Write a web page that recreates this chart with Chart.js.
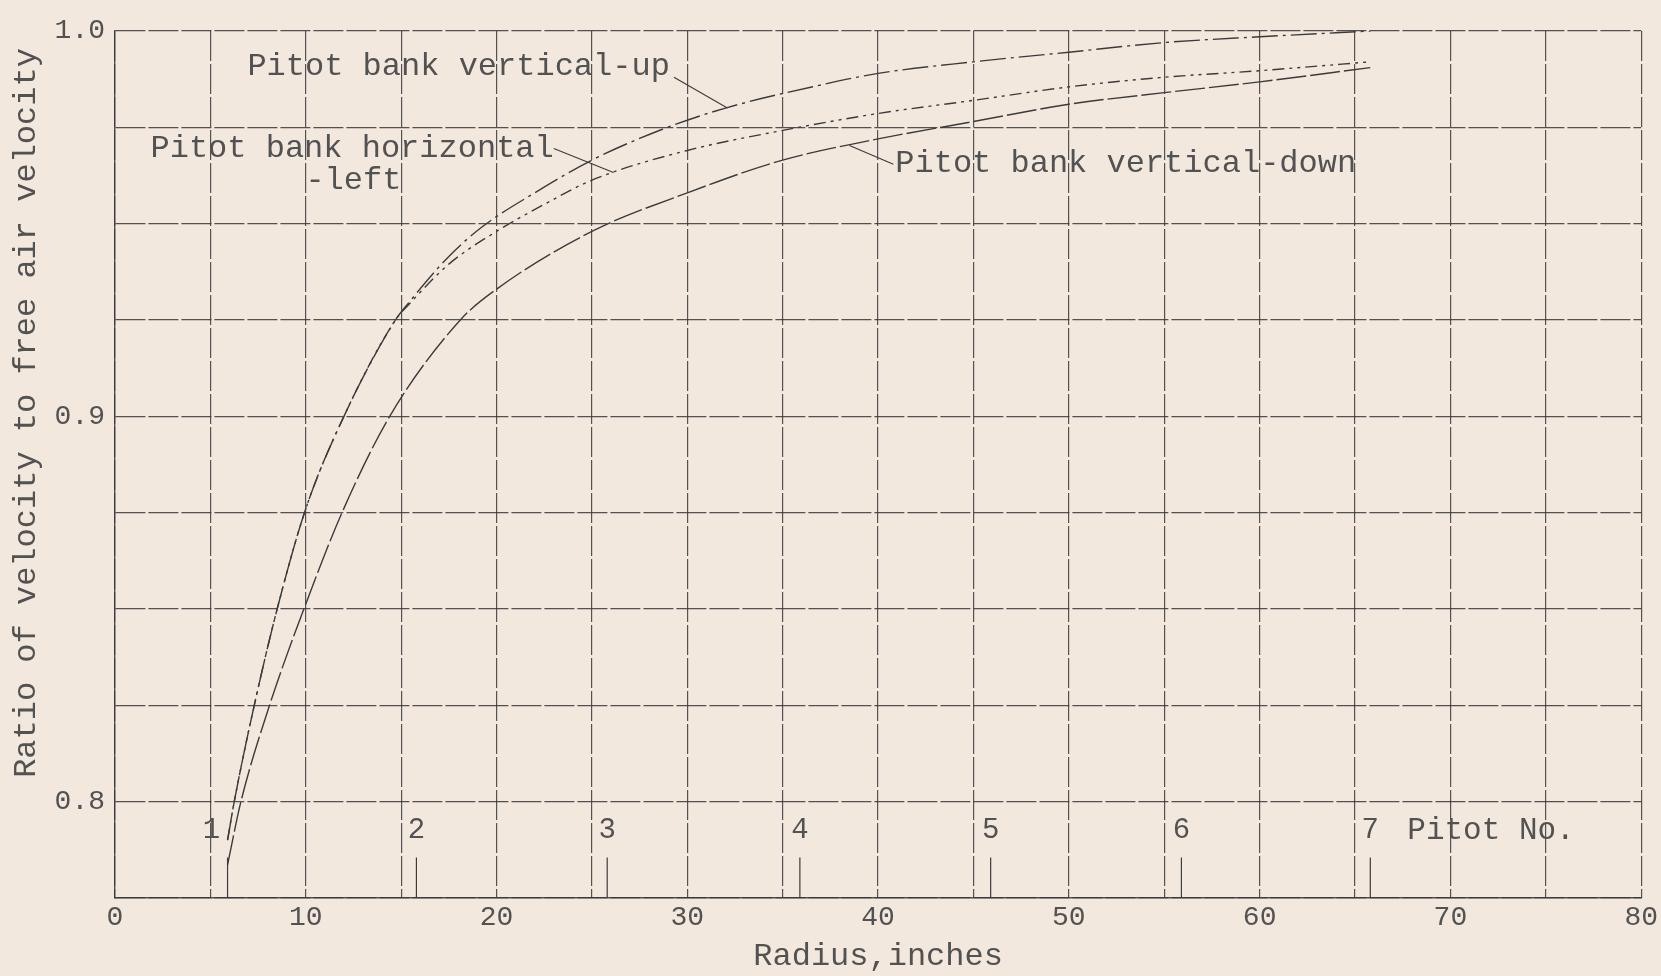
<!DOCTYPE html>
<html>
<head>
<meta charset="utf-8">
<script src="https://cdn.jsdelivr.net/npm/chart.js@4.4.0/dist/chart.umd.min.js"></script>
<style>
html,body{margin:0;padding:0;background:#f3e8de;}
canvas{display:block;}
</style>
</head>
<body>
<canvas id="c" width="1661" height="976"></canvas>
<script>
// ---------------- data ----------------
const radiusUp   = [5.9, 6.25, 7.3, 8.5, 10, 12, 14.7, 15.4, 17.5, 19.2, 22, 25, 28.7, 32, 37, 40, 45, 50, 55, 60, 65.8];
const ratioUp    = [0.790, 0.800, 0.825, 0.850, 0.876, 0.900, 0.925, 0.9295, 0.9415, 0.949, 0.958, 0.9665, 0.9745, 0.980, 0.986, 0.989, 0.992, 0.9945, 0.997, 0.9985, 1.0];

const radiusLeft = [5.9, 6.25, 7.3, 8.5, 10, 12, 14.7, 15.4, 17.5, 20, 22.5, 25, 30, 35, 40, 45, 50, 55, 60, 65.8];
const ratioLeft  = [0.790, 0.800, 0.825, 0.850, 0.876, 0.900, 0.925, 0.929, 0.9395, 0.948, 0.955, 0.9613, 0.969, 0.9742, 0.9786, 0.982, 0.9855, 0.988, 0.9897, 0.992];

const radiusDown = [5.9, 6.6, 8.1, 9.9, 11.9, 14.4, 18.1, 20, 25, 30, 35, 40, 45, 50, 55, 60, 65.8];
const ratioDown  = [0.7836, 0.800, 0.825, 0.850, 0.875, 0.900, 0.925, 0.933, 0.948, 0.958, 0.9665, 0.972, 0.9765, 0.981, 0.984, 0.9868, 0.9905];

const pitotNumbers = ['1', '2', '3', '4', '5', '6', '7'];
const pitotRadius  = [5.9, 15.8, 25.8, 35.9, 45.9, 55.9, 65.8];

const xTickLabels = ['0', '10', '20', '30', '40', '50', '60', '70', '80'];
const yTickLabels = ['0.8', '0.9', '1.0'];

const seriesNames = ['Pitot bank vertical-up', 'Pitot bank horizontal-left', 'Pitot bank vertical-down'];
const xTitle = 'Radius,inches';
const yTitle = 'Ratio of velocity to free air velocity';
const pitotTitle = 'Pitot No.';

// ---------------- styling ----------------
const PAPER = '#f3e8de';
const INK = '#3b3b3b';
const TEXT = '#525252';
const GRID = 'rgba(55,55,55,0.85)';
const MONO = '"Liberation Mono", "DejaVu Sans Mono", monospace';
const Y_MIN = 0.775, Y_MAX = 1.0;
const PITOT_TICK_TOP = 0.7855;

const toPts = (xs, ys) => xs.map((v, i) => ({x: v, y: ys[i]}));
const pitotTickPts = [];
pitotRadius.forEach(r => {
  pitotTickPts.push({x: r, y: Y_MIN}, {x: r, y: PITOT_TICK_TOP}, {x: r, y: null});
});

const near = (a, b) => Math.abs(a - b) < 1e-6;

// annotation placement (data coordinates)
const curveLabels = [
  {text: 'Pitot bank vertical-up', at: [6.94, 0.9909], lead: [[29.3, 0.988], [32.1, 0.980]]},
  {text: 'Pitot bank horizontal', at: [1.86, 0.9695], lead: [[23.0, 0.9695], [26.13, 0.9633]]},
  {text: '-left', at: [9.98, 0.9612], lead: null},
  {text: 'Pitot bank vertical-down', at: [40.9, 0.9657], lead: [[40.8, 0.9654], [38.5, 0.9703]]}
];

const paperPlugin = {
  id: 'paper',
  beforeDraw(chart) {
    const c = chart.ctx;
    c.save();
    c.fillStyle = PAPER;
    c.fillRect(0, 0, chart.width, chart.height);
    c.restore();
  }
};

const annotPlugin = {
  id: 'annot',
  afterDatasetsDraw(chart) {
    const {ctx, scales: {x, y}} = chart;
    ctx.save();
    ctx.fillStyle = TEXT;
    ctx.strokeStyle = INK;
    ctx.lineWidth = 1.1;
    ctx.font = '32px ' + MONO;
    ctx.textBaseline = 'middle';
    ctx.textAlign = 'left';
    curveLabels.forEach(l => {
      ctx.fillText(l.text, x.getPixelForValue(l.at[0]), y.getPixelForValue(l.at[1]));
      if (l.lead) {
        ctx.beginPath();
        ctx.moveTo(x.getPixelForValue(l.lead[0][0]), y.getPixelForValue(l.lead[0][1]));
        ctx.lineTo(x.getPixelForValue(l.lead[1][0]), y.getPixelForValue(l.lead[1][1]));
        ctx.stroke();
      }
    });
    // pitot numbers
    ctx.font = '29px ' + MONO;
    ctx.textAlign = 'center';
    const ly = y.getPixelForValue(0.7925);
    pitotNumbers.forEach((n, i) => {
      const px = x.getPixelForValue(pitotRadius[i]) + (i === 0 ? -16 : 0);
      ctx.fillText(n, px, ly);
    });
    ctx.font = '31px ' + MONO;
    ctx.textAlign = 'left';
    ctx.fillText(pitotTitle, x.getPixelForValue(pitotRadius[pitotRadius.length - 1]) + 37, ly);
    // y-axis title
    ctx.save();
    ctx.font = '32px ' + MONO;
    ctx.translate(27, 413);
    ctx.rotate(-Math.PI / 2);
    ctx.textAlign = 'center';
    ctx.fillText(yTitle, 0, 0);
    ctx.restore();
    ctx.restore();
  }
};

const lineBase = {
  pointRadius: 0,
  pointHoverRadius: 0,
  borderColor: INK,
  borderWidth: 1.4,
  fill: false,
  cubicInterpolationMode: 'monotone'
};

new Chart(document.getElementById('c'), {
  type: 'line',
  data: {
    datasets: [
      Object.assign({}, lineBase, {label: seriesNames[0], data: toPts(radiusUp, ratioUp), borderDash: [26, 5, 3, 5]}),
      Object.assign({}, lineBase, {label: seriesNames[1], data: toPts(radiusLeft, ratioLeft), borderDash: [12, 5, 3, 5, 3, 5]}),
      Object.assign({}, lineBase, {label: seriesNames[2], data: toPts(radiusDown, ratioDown), borderDash: [30, 4]}),
      {label: pitotTitle, data: pitotTickPts, borderColor: INK, borderWidth: 1.2, pointRadius: 0, spanGaps: false, fill: false}
    ]
  },
  options: {
    responsive: false,
    animation: false,
    events: [],
    layout: {padding: {top: 31, right: 19, left: 0, bottom: 0}},
    plugins: {legend: {display: false}, tooltip: {enabled: false}},
    scales: {
      x: {
        type: 'linear',
        min: 0, max: 80,
        afterFit(s) { s.height = 78; },
        grid: {color: GRID, lineWidth: 1.2, drawTicks: false},
        border: {color: GRID, width: 1.4, dash: [30, 3]},
        ticks: {
          stepSize: 5, autoSkip: false, maxRotation: 0, padding: 3,
          color: TEXT, font: {family: MONO, size: 28},
          callback(v) { return xTickLabels.includes(String(v)) ? String(v) : ''; }
        },
        title: {display: true, text: xTitle, color: TEXT, font: {family: MONO, size: 32}, padding: {top: 0, bottom: 0}}
      },
      y: {
        type: 'linear',
        min: Y_MIN, max: Y_MAX,
        afterFit(s) { s.width = 115; },
        grid: {color: GRID, lineWidth: 1.2, drawTicks: false},
        border: {color: GRID, width: 1.4, dash: [30, 3]},
        ticks: {
          stepSize: 0.025, autoSkip: false, padding: 10,
          color: TEXT, font: {family: MONO, size: 28},
          callback(v) {
            const t = yTickLabels.find(s => near(parseFloat(s), v));
            return t ? t : '';
          }
        }
      }
    }
  },
  plugins: [paperPlugin, annotPlugin]
});
</script>
</body>
</html>
